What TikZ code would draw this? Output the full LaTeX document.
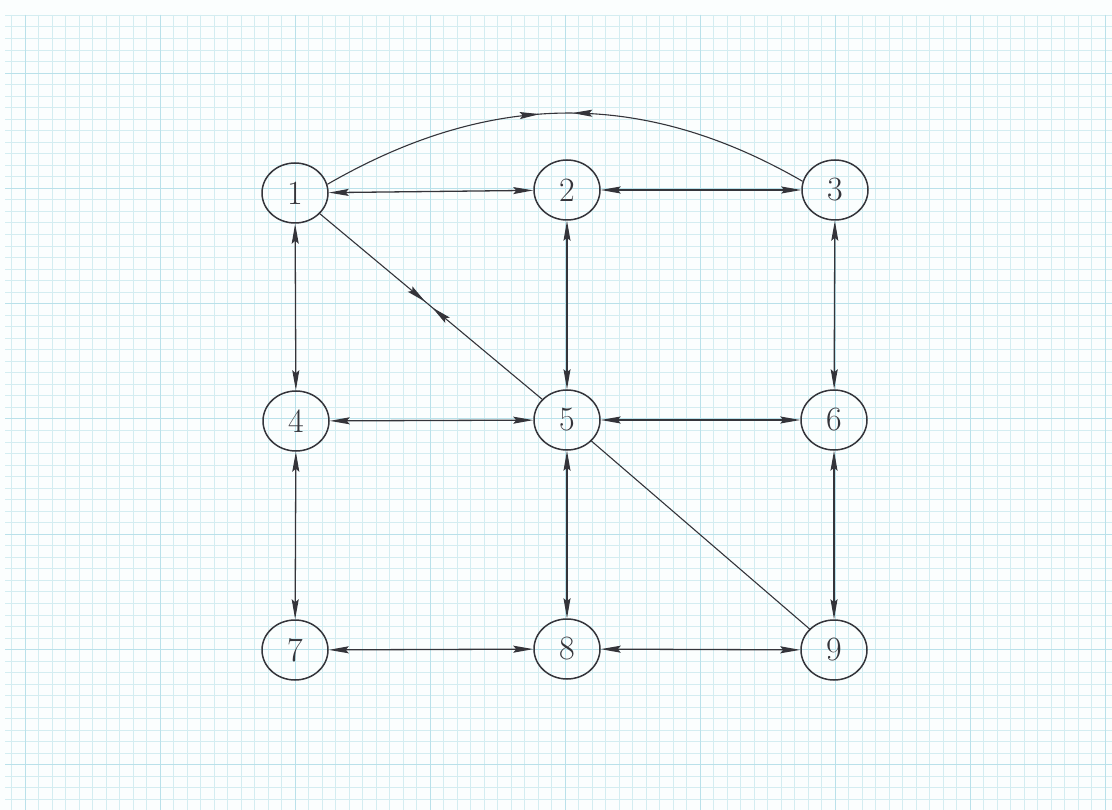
\documentclass[tikz,border=0pt]{standalone}
\usetikzlibrary{arrows.meta,shapes.geometric,decorations.markings}
\definecolor{ink}{RGB}{52,52,58}
\definecolor{gridminor}{RGB}{212,237,241}
\definecolor{gridmajor}{RGB}{186,225,234}
\definecolor{paper}{RGB}{251,254,254}
\tikzset{
  tip/.tip={Stealth[length=20pt,width=7pt,inset=3pt]},
}
\begin{document}
\begin{tikzpicture}[x=1pt,y=1pt,
  vertex/.style={ellipse, draw=ink, line width=1.5pt, minimum width=66pt,
    minimum height=60pt, inner sep=0pt, text=ink,
    font=\fontsize{34}{34}\selectfont},
  edge/.style={draw=ink, line width=1.3pt},
  twoway/.style={edge, tip-tip},
  meet/.style 2 args={edge, postaction={decorate},
    decoration={markings,
      mark=at position #1 with {\arrow{tip}},
      mark=at position #2 with {\arrowreversed{tip}}}},
]
% sheet of squared paper
\useasboundingbox (0,0) rectangle (1112,-810);
\fill[paper] (0,0) rectangle (1112,-810);
\foreach \k in {-1,...,80}
  \draw[gridminor, line width=0.7pt] ({25+13.5*\k},-15) -- ({25+13.5*\k},-810);
\foreach \j in {-5,...,63}
  \draw[gridminor, line width=0.8pt] (5,{-73-11.53*\j}) -- (1112,{-73-11.53*\j});
\foreach \k in {0,10,...,80}
  \draw[gridmajor, line width=0.9pt] ({25+13.5*\k},-15) -- ({25+13.5*\k},-810);
\foreach \j in {0,10,...,60}
  \draw[gridmajor, line width=0.9pt] (5,{-73-11.53*\j}) -- (1112,{-73-11.53*\j});

% vertices
\node[vertex] (n1) at (295,-193) {1};
\node[vertex] (n2) at (567,-190) {2};
\node[vertex] (n3) at (835,-190) {3};
\node[vertex] (n4) at (296,-421) {4};
\node[vertex] (n5) at (567,-420) {5};
\node[vertex] (n6) at (834,-420) {6};
\node[vertex] (n7) at (295,-650) {7};
\node[vertex] (n8) at (567,-649) {8};
\node[vertex] (n9) at (834,-650) {9};

% horizontal edges
\draw[twoway] (n1) -- (n2);
\draw[twoway] (n2) -- (n3);
\draw[twoway] (n4) -- (n5);
\draw[twoway] (n5) -- (n6);
\draw[twoway] (n7) -- (n8);
\draw[twoway] (n8) -- (n9);
% vertical edges
\draw[twoway] (n1) -- (n4);
\draw[twoway] (n2) -- (n5);
\draw[twoway] (n3) -- (n6);
\draw[twoway] (n4) -- (n7);
\draw[twoway] (n5) -- (n8);
\draw[twoway] (n6) -- (n9);
% diagonals and the arc over the top row
\draw[meet={0.475}{0.505}, line width=1.1pt] (n1) -- (n5);
\draw[edge, line width=1.1pt] (n5) -- (n9);
\draw[meet={0.45}{0.515}, line width=1.1pt] (n1.15) to[out=30,in=150] (n3.165);
\end{tikzpicture}
\end{document}
